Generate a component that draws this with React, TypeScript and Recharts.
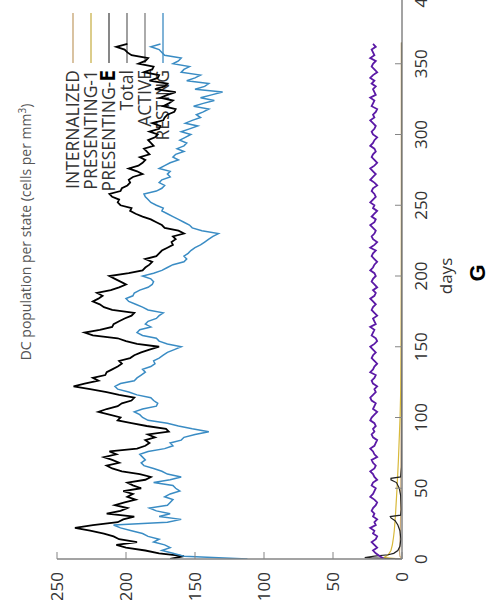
import React from 'react';
import { LineChart, Line, XAxis, YAxis, Customized } from 'recharts';

// sampled days for the noisy series (every 2 days)
const DAYS = [
  0, 2, 4, 6, 8, 10, 12, 14, 16, 18, 20, 22, 24, 26, 28, 30,
  32, 34, 36, 38, 40, 42, 44, 46, 48, 50, 52, 54, 56, 58, 60,
  62, 64, 66, 68, 70, 72, 74, 76, 78, 80, 82, 84, 86, 88, 90,
  92, 94, 96, 98, 100, 102, 104, 106, 108, 110, 112, 114, 116, 118, 120,
  122, 124, 126, 128, 130, 132, 134, 136, 138, 140, 142, 144, 146, 148, 150,
  152, 154, 156, 158, 160, 162, 164, 166, 168, 170, 172, 174, 176, 178, 180,
  182, 184, 186, 188, 190, 192, 194, 196, 198, 200, 202, 204, 206, 208, 210,
  212, 214, 216, 218, 220, 222, 224, 226, 228, 230, 232, 234, 236, 238, 240,
  242, 244, 246, 248, 250, 252, 254, 256, 258, 260, 262, 264, 266, 268, 270,
  272, 274, 276, 278, 280, 282, 284, 286, 288, 290, 292, 294, 296, 298, 300,
  302, 304, 306, 308, 310, 312, 314, 316, 318, 320, 322, 324, 326, 328, 330,
  332, 334, 336, 338, 340, 342, 344, 346, 348, 350, 352, 354, 356, 358, 360, 362, 364,
];

const TOTAL = [
  168, 158, 176, 186, 200, 207, 192, 205, 209, 216, 226, 237, 224, 206, 202, 194,
  214, 204, 199, 208, 201, 193, 199, 195, 202, 189, 195, 199, 186, 182, 190,
  203, 210, 214, 205, 210, 216, 207, 212, 192, 186, 183, 186, 179, 184, 169,
  171, 185, 196, 206, 204, 212, 220, 214, 206, 203, 196, 194, 205, 214, 226,
  238, 230, 220, 224, 215, 214, 210, 206, 203, 205, 197, 194, 189, 183, 176,
  192, 200, 206, 224, 230, 219, 210, 209, 205, 201, 196, 194, 210, 216, 219,
  224, 220, 217, 221, 211, 205, 200, 204, 208, 212, 198, 188, 186, 183, 181,
  186, 178, 176, 174, 170, 166, 167, 164, 166, 158, 162, 172, 174, 178, 182,
  188, 193, 197, 196, 204, 206, 205, 210, 212, 204, 203, 199, 197, 198, 195,
  188, 192, 198, 191, 188, 186, 190, 183, 185, 187, 180, 182, 184, 179, 177,
  183, 176, 175, 181, 173, 172, 170, 165, 164, 173, 169, 166, 175, 170, 164,
  179, 172, 170, 183, 177, 176, 187, 181, 180, 191, 186, 184, 196, 199, 201, 207, 199,
];

const RESTING = [
  112, 158, 166, 174, 168, 172, 180, 176, 184, 188, 196, 204, 209, 170, 160, 176,
  168, 178, 183, 170, 168, 166, 172, 168, 161, 164, 166, 180, 168, 160, 170,
  174, 180, 187, 189, 186, 188, 190, 184, 172, 166, 168, 160, 158, 150, 140,
  152, 162, 170, 184, 188, 190, 194, 188, 178, 177, 180, 182, 192, 198, 206,
  208, 204, 194, 192, 189, 186, 188, 182, 179, 180, 176, 173, 170, 165, 160,
  170, 176, 178, 188, 192, 190, 182, 186, 184, 178, 176, 173, 184, 188, 193,
  198, 200, 195, 194, 190, 184, 181, 180, 182, 188, 180, 174, 170, 166, 158,
  156, 158, 155, 153, 150, 146, 143, 140, 137, 133, 145, 152, 154, 158, 162,
  166, 170, 174, 173, 178, 182, 184, 186, 187, 178, 174, 172, 176, 174, 168,
  170, 168, 176, 172, 168, 162, 166, 164, 158, 163, 158, 156, 161, 157, 153,
  160, 154, 148, 157, 152, 146, 149, 144, 140, 151, 144, 136, 146, 138, 130,
  150, 143, 140, 156, 150, 146, 160, 158, 154, 166, 162, 160, 172, 174, 176, 182, 175,
];

const ACTIVE = [
  13, 16, 19, 21, 18, 20, 22, 19, 18, 21, 20, 23, 19, 20, 18, 21,
  20, 22, 21, 19, 18, 20, 23, 21, 20, 19, 22, 21, 18, 20, 21,
  23, 20, 19, 21, 22, 18, 20, 21, 23, 20, 19, 18, 21, 22, 20,
  21, 19, 20, 23, 22, 20, 18, 21, 20, 19, 22, 23, 21, 19, 20,
  18, 21, 22, 20, 19, 23, 21, 20, 18, 20, 22, 21, 19, 21, 23,
  20, 18, 19, 22, 21, 20, 23, 19, 20, 21, 18, 20, 22, 21, 19,
  21, 23, 20, 19, 21, 18, 20, 22, 21, 19, 20, 23, 21, 20, 18,
  20, 22, 21, 19, 23, 20, 18, 21, 22, 20, 19, 21, 23, 20, 19,
  22, 20, 18, 21, 20, 23, 21, 19, 20, 22, 21, 18, 20, 23, 21,
  19, 21, 23, 20, 18, 20, 22, 21, 19, 20, 23, 21, 20, 18, 21,
  22, 20, 19, 21, 23, 20, 21, 19, 18, 22, 21, 20, 23, 19, 20,
  21, 19, 22, 20, 23, 21, 18, 20, 22, 21, 19, 23, 20, 21, 22, 19, 21,
];

const PRES_E_DAYS = [0, 1, 2, 3, 4, 6, 9, 14, 20, 24, 27, 29, 30, 31, 35, 45, 50, 54, 56, 57, 58, 65, 100, 200, 365];
const PRES_E = [0, 27, 20, 10, 6, 3, 1.5, 0.8, 1.5, 3, 5, 8, 8.5, 1, 0.5, 1, 2, 4, 8, 8, 1, 0.3, 0.1, 0, 0];

const PRES_1_DAYS = [0, 1, 3, 6, 10, 15, 20, 30, 40, 50, 60, 70, 80, 90, 100, 120, 150, 200, 250, 300, 365];
const PRES_1 = [0, 13, 10, 8, 7, 6.2, 5.6, 4.8, 4.2, 3.6, 3.1, 2.6, 2.2, 1.8, 1.4, 0.9, 0.6, 0.4, 0.3, 0.3, 0.3];

const INTERN_DAYS = [0, 2, 5, 10, 30, 60, 100, 200, 365];
const INTERN = [0, 1.5, 1.8, 1.5, 1.0, 0.8, 0.6, 0.5, 0.5];

const DAY_TICKS = [0, 50, 100, 150, 200, 250, 300, 350, 400];
const POP_TICKS = [0, 50, 100, 150, 200, 250];

const LEGEND = [
  { name: 'INTERNALIZED', color: '#c9a97a' },
  { name: 'PRESENTING-1', color: '#cdb85a' },
  { name: 'PRESENTING-', color: '#555555', bold: 'E' },
  { name: 'Total', color: '#777777' },
  { name: 'ACTIVE', color: '#888888' },
  { name: 'RESTING', color: '#4a93c6' },
];

const mainData = DAYS.map((day, i) => ({ day, total: TOTAL[i], resting: RESTING[i], active: ACTIVE[i] }));
const presEData = PRES_E_DAYS.map((day, i) => ({ day, v: PRES_E[i] }));
const pres1Data = PRES_1_DAYS.map((day, i) => ({ day, v: PRES_1[i] }));
const internData = INTERN_DAYS.map((day, i) => ({ day, v: INTERN[i] }));

const FONT = '"Open Sans", sans-serif';
const FRAME = '#858585';

// texts and key drawn on top (coordinates are in the un-rotated chart)
const Overlay = () => (
  <g fontFamily={FONT}>
    <text x={388} y={31} textAnchor="middle" fontSize={14} fill="#555">
      DC population per state (cells per mm<tspan dy={-5} fontSize={10}>3</tspan><tspan dy={5}>)</tspan>
    </text>
    <text x={344} y={452} textAnchor="middle" fontSize={17} fill="#333">days</text>
    <text x={347} y={485} textAnchor="middle" fontSize={22} fontWeight="bold" fill="#000"
      fontFamily='"Liberation Sans", Arial, sans-serif'>G</text>
    {LEGEND.map((item, i) => {
      const v = 73 + 18 * i;
      return (
        <g key={item.name}>
          <line x1={557} x2={607} y1={v} y2={v} stroke={item.color} strokeWidth={1.4} />
          <text x={550} y={v + 6} textAnchor="end" fontSize={17.5} fill="#333">
            {item.name}
            {item.bold && <tspan fontWeight="bold" fontSize={21} fill="#000">{item.bold}</tspan>}
          </text>
        </g>
      );
    })}
  </g>
);

const Chart = () => (
  <LineChart width={650} height={493} data={mainData} margin={{ top: 57, right: 23, bottom: 0, left: 11 }}>
    <XAxis
      dataKey="day"
      type="number"
      domain={[0, 400]}
      ticks={DAY_TICKS}
      interval={0}
      height={91}
      tickSize={-7}
      tickMargin={20}
      stroke={FRAME}
      axisLine={{ stroke: FRAME, strokeWidth: 1.5 }}
      tick={{ fill: '#333', fontSize: 17, fontFamily: FONT }}
      allowDataOverflow
    />
    <XAxis
      xAxisId="top"
      orientation="top"
      dataKey="day"
      type="number"
      domain={[0, 400]}
      ticks={DAY_TICKS}
      interval={0}
      height={0}
      tickSize={-7}
      tick={false}
      stroke={FRAME}
      axisLine={{ stroke: FRAME, strokeWidth: 1.5 }}
      allowDataOverflow
    />
    <YAxis
      type="number"
      domain={[0, 250]}
      ticks={POP_TICKS}
      interval={0}
      width={50}
      tickSize={-7}
      tickMargin={20}
      stroke={FRAME}
      axisLine={{ stroke: FRAME, strokeWidth: 1.5 }}
      tick={{ fill: '#333', fontSize: 17, fontFamily: FONT }}
      allowDataOverflow
    />
    <Line data={internData} dataKey="v" type="linear" stroke="#c9a97a" strokeWidth={1.2} dot={false} isAnimationActive={false} />
    <Line data={pres1Data} dataKey="v" type="linear" stroke="#d8b93a" strokeWidth={1.2} dot={false} isAnimationActive={false} />
    <Line data={presEData} dataKey="v" type="linear" stroke="#222" strokeWidth={1.2} dot={false} isAnimationActive={false} />
    <Line dataKey="total" type="linear" stroke="#000" strokeWidth={1.8} dot={false} isAnimationActive={false} />
    <Line dataKey="active" type="linear" stroke="#5b1aa6" strokeWidth={1.8} dot={false} isAnimationActive={false} />
    <Line dataKey="resting" type="linear" stroke="#3a8cc4" strokeWidth={1.5} dot={false} isAnimationActive={false} />
    <Customized component={Overlay} />
  </LineChart>
);

export default function App() {
  return (
    <div style={{ position: 'fixed', left: 0, top: 0, width: 493, height: 600, overflow: 'hidden', background: '#fff' }}>
      <div style={{ position: 'absolute', left: 0, top: 620, width: 650, height: 493, transformOrigin: '0 0', transform: 'rotate(-90deg)' }}>
        <Chart />
      </div>
    </div>
  );
}
